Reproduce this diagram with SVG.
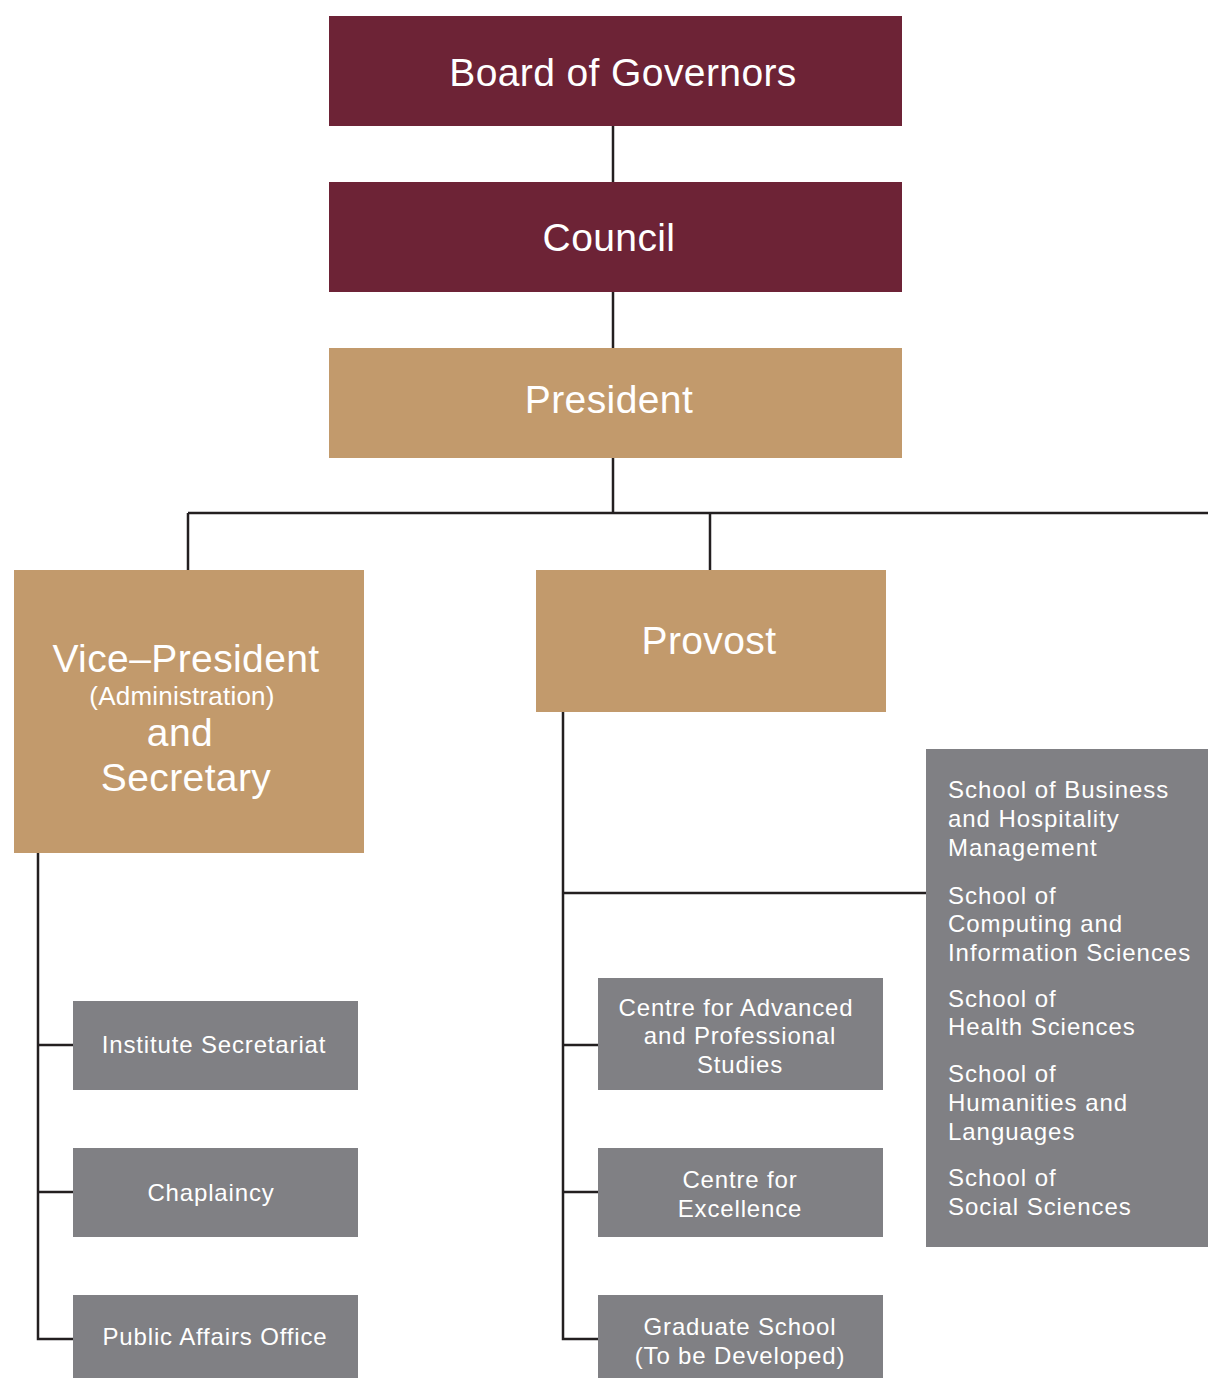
<svg xmlns="http://www.w3.org/2000/svg" width="1208" height="1378" viewBox="0 0 1208 1378">
<style>
.maroon{fill:#6d2336}
.tan{fill:#c29a6c}
.grey{fill:#808084}
text{font-family:"Liberation Sans","Noto Sans",Arial,sans-serif;fill:#ffffff}
.big{font-size:39px;text-anchor:middle;letter-spacing:0.4px}
.sm{font-size:24px;text-anchor:middle;letter-spacing:0.85px}
.sl{font-size:24px;letter-spacing:0.95px}
.conn{stroke:#231f20;stroke-width:2.5;fill:none}
</style>
<rect width="1208" height="1378" fill="#ffffff"/>
<g id="connectors" class="conn">
<line x1="613" y1="126" x2="613" y2="182"/>
<line x1="613" y1="292" x2="613" y2="348"/>
<line x1="613" y1="458" x2="613" y2="513"/>
<line x1="188" y1="513" x2="1208" y2="513"/>
<line x1="188" y1="513" x2="188" y2="570"/>
<line x1="710" y1="513" x2="710" y2="570"/>
<polyline points="38,853 38,1339 73,1339"/>
<line x1="38" y1="1045" x2="73" y2="1045"/>
<line x1="38" y1="1192" x2="73" y2="1192"/>
<polyline points="563,712 563,1339 598,1339"/>
<line x1="563" y1="893" x2="926" y2="893"/>
<line x1="563" y1="1045" x2="598" y2="1045"/>
<line x1="563" y1="1192" x2="598" y2="1192"/>
</g>
<g id="board"><rect class="maroon" x="329" y="16" width="573" height="110"/><text class="big" x="623" y="86">Board of Governors</text></g>
<g id="council"><rect class="maroon" x="329" y="182" width="573" height="110"/><text class="big" x="609" y="251">Council</text></g>
<g id="president"><rect class="tan" x="329" y="348" width="573" height="110"/><text class="big" x="609" y="413">President</text></g>
<g id="vp"><rect class="tan" x="14" y="570" width="350" height="283"/>
<text class="big" x="186" y="672">Vice–President</text>
<text class="sm" x="182" y="705" style="font-size:26px;letter-spacing:0.2px">(Administration)</text>
<text class="big" x="180" y="746">and</text>
<text class="big" x="186" y="791">Secretary</text></g>
<g id="provost"><rect class="tan" x="536" y="570" width="350" height="142"/><text class="big" x="709" y="654">Provost</text></g>
<g id="institute-secretariat"><rect class="grey" x="73" y="1001" width="285" height="89"/><text class="sm" x="214" y="1053">Institute Secretariat</text></g>
<g id="chaplaincy"><rect class="grey" x="73" y="1148" width="285" height="89"/><text class="sm" x="211" y="1201">Chaplaincy</text></g>
<g id="public-affairs"><rect class="grey" x="73" y="1295" width="285" height="83"/><text class="sm" x="215" y="1345">Public Affairs Office</text></g>
<g id="capps"><rect class="grey" x="598" y="978" width="285" height="112"/>
<text class="sm" x="736" y="1016">Centre for Advanced</text>
<text class="sm" x="740" y="1044">and Professional</text>
<text class="sm" x="740" y="1073">Studies</text></g>
<g id="excellence"><rect class="grey" x="598" y="1148" width="285" height="89"/>
<text class="sm" x="740" y="1188">Centre for</text>
<text class="sm" x="740" y="1217">Excellence</text></g>
<g id="graduate"><rect class="grey" x="598" y="1295" width="285" height="83"/>
<text class="sm" x="740" y="1335">Graduate School</text>
<text class="sm" x="740" y="1364">(To be Developed)</text></g>
<g id="schools"><rect class="grey" x="926" y="749" width="282" height="498"/>
<text class="sl" x="948" y="798">School of Business</text>
<text class="sl" x="948" y="827">and Hospitality</text>
<text class="sl" x="948" y="856">Management</text>
<text class="sl" x="948" y="904">School of</text>
<text class="sl" x="948" y="932">Computing and</text>
<text class="sl" x="948" y="961">Information Sciences</text>
<text class="sl" x="948" y="1007">School of</text>
<text class="sl" x="948" y="1035">Health Sciences</text>
<text class="sl" x="948" y="1082">School of</text>
<text class="sl" x="948" y="1111">Humanities and</text>
<text class="sl" x="948" y="1140">Languages</text>
<text class="sl" x="948" y="1186">School of</text>
<text class="sl" x="948" y="1215">Social Sciences</text></g>
</svg>
